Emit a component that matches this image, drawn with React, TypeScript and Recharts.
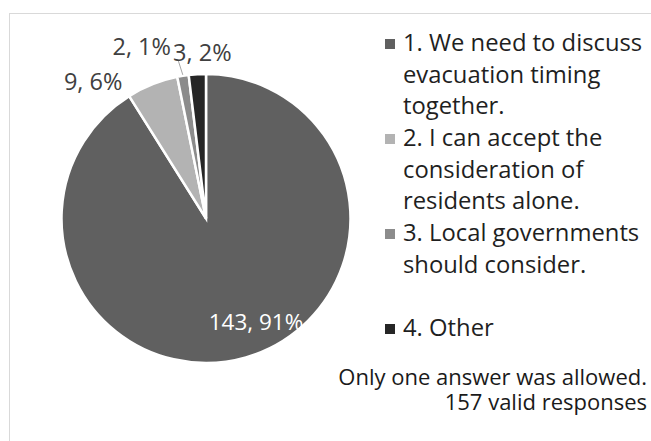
import { PieChart, Pie, Cell, Legend } from "recharts";

const categories = [
  "1. We need to discuss evacuation timing together.",
  "2. I can accept the consideration of residents alone.",
  "3. Local governments should consider.",
  "4. Other",
];
// legend text wrapped the way the original shows it
const legendLines = [
  ["1. We need to discuss", "evacuation timing", "together."],
  ["2. I can accept the", "consideration of", "residents alone."],
  ["3. Local governments", "should consider."],
  ["4. Other"],
];
const counts = [143, 9, 2, 3];
const colors = ["#606060", "#b3b3b3", "#8c8c8c", "#262626"];
const noteLines = ["Only one answer was allowed.", "157 valid responses"];

const data = categories.map((name, i) => ({ name, value: counts[i] }));

const FONT = "'Open Sans', sans-serif";
const RAD = Math.PI / 180;

// where each data label sits, relative to the slice's edge (or inside for the big one)
const labelPlace = [
  { r: 0.8, dx: 18, dy: 0, anchor: "middle", fill: "#ffffff", size: 22.5 },
  { r: 1, dx: -30, dy: 5.5, anchor: "end", fill: "#404040", size: 23.5 },
  { r: 1, dx: -12, dy: -21, anchor: "end", fill: "#404040", size: 23.5 },
  { r: 1, dx: 5, dy: -13, anchor: "middle", fill: "#404040", size: 23.5 },
];

function SliceLabel(props: any) {
  const { cx, cy, midAngle, outerRadius, index, value, percent } = props;
  const p = labelPlace[index];
  const cos = Math.cos(-midAngle * RAD);
  const sin = Math.sin(-midAngle * RAD);
  const x = cx + outerRadius * p.r * cos + p.dx;
  const y = cy + outerRadius * p.r * sin + p.dy;
  const text = `${value}, ${Math.round(percent * 100)}%`;
  return (
    <g>
      {index === 2 && (
        <line
          x1={cx + (outerRadius + 1) * cos}
          y1={cy + (outerRadius + 1) * sin}
          x2={cx + (outerRadius + 16) * cos - 2}
          y2={cy + (outerRadius + 16) * sin + 1}
          stroke="#a6a6a6"
          strokeWidth={1}
        />
      )}
      <text x={x} y={y} textAnchor={p.anchor} fill={p.fill} fontSize={p.size} fontFamily={FONT}>
        {text}
      </text>
    </g>
  );
}

function LegendList() {
  return (
    <div style={{ position: "relative", width: 266, height: 441, fontFamily: FONT }}>
      {legendLines.map((lines, i) => (
        <div key={i} style={{ position: "absolute", left: 0, top: 27 + i * 95 }}>
          <div
            style={{
              position: "absolute",
              left: 0,
              top: 12,
              width: 10,
              height: 10,
              background: colors[i],
            }}
          />
          <div
            style={{
              marginLeft: 18,
              fontSize: 23.8,
              lineHeight: "31.67px",
              color: "#1f1f1f",
              whiteSpace: "nowrap",
            }}
          >
            {lines.map((l, j) => (
              <div key={j}>{l}</div>
            ))}
          </div>
        </div>
      ))}
    </div>
  );
}

export default function App() {
  return (
    <div
      style={{
        position: "fixed",
        left: 0,
        top: 0,
        width: 651,
        height: 441,
        overflow: "hidden",
        background: "#ffffff",
      }}
    >
      <div
        style={{
          position: "absolute",
          left: 9,
          top: 13,
          width: 700,
          height: 500,
          border: "1px solid #d9d9d9",
        }}
      />
      <div style={{ position: "absolute", left: 0, top: 0 }}>
        <PieChart width={651} height={441} margin={{ top: 0, right: 0, bottom: 0, left: 0 }}>
          <Pie
            data={data}
            dataKey="value"
            nameKey="name"
            cx={206}
            cy={218.5}
            outerRadius={144.5}
            startAngle={90}
            endAngle={-270}
            stroke="#ffffff"
            strokeWidth={2.5}
            label={SliceLabel}
            labelLine={false}
            isAnimationActive={false}
          >
            {data.map((d, i) => (
              <Cell key={d.name} fill={colors[i]} />
            ))}
          </Pie>
          <Legend
            layout="vertical"
            align="right"
            verticalAlign="top"
            wrapperStyle={{ left: 385, right: "auto", top: 0, width: 266 }}
            content={() => <LegendList />}
          />
        </PieChart>
      </div>
      <div
        style={{
          position: "absolute",
          right: 4,
          top: 364,
          textAlign: "right",
          fontFamily: FONT,
          fontSize: 22,
          lineHeight: "25px",
          color: "#1a1a1a",
          whiteSpace: "nowrap",
        }}
      >
        {noteLines.map((l) => (
          <div key={l}>{l}</div>
        ))}
      </div>
    </div>
  );
}
